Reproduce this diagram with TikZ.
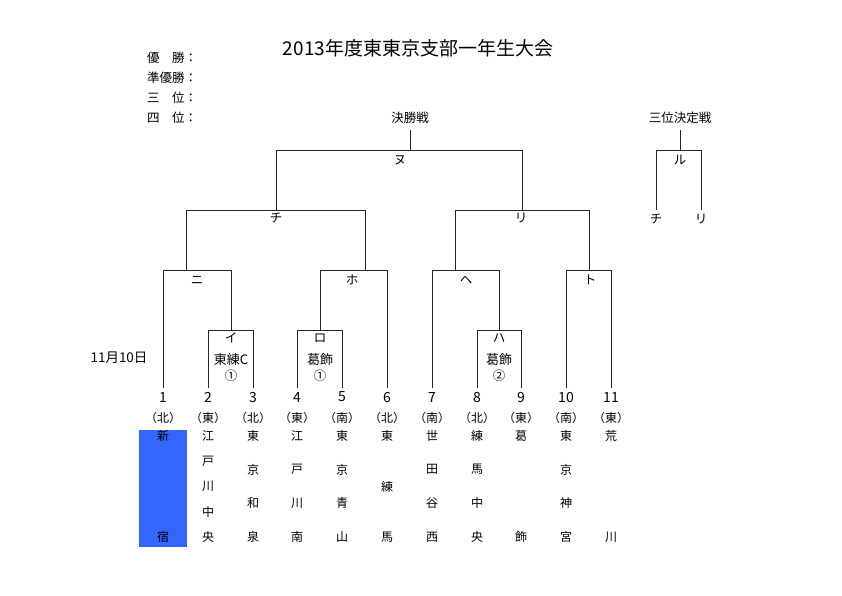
\documentclass[tikz,border=0pt]{standalone}
\usepackage{fontspec}
\setmainfont{Noto Sans CJK JP}
\definecolor{blueband}{RGB}{51,102,255}
\begin{document}
\begin{tikzpicture}[x=1pt,y=-1pt,
  ln/.style={line width=1pt,black!85},
  lbl/.style={inner sep=0pt,font=\fontsize{12.5}{14}\selectfont},
  num/.style={inner sep=0pt,font=\fontsize{14}{16}\selectfont},
  reg/.style={inner sep=0pt,font=\fontsize{12}{14}\selectfont},
  tb/.style={inner sep=0pt,font=\fontsize{12}{14}\selectfont}]
\useasboundingbox[fill=white] (0,0) rectangle (842,595);

% title and header
\node[inner sep=0pt,font=\fontsize{19}{21}\selectfont] (title) at (418,48) {2013年度東東京支部一年生大会};
\node[lbl,anchor=west] (h1) at (147,58) {優　勝：};
\node[lbl,anchor=west] (h2) at (147,78) {準優勝：};
\node[lbl,anchor=west] (h3) at (147,98) {三　位：};
\node[lbl,anchor=west] (h4) at (147,118) {四　位：};
\node[lbl] (final) at (410,118) {決勝戦};
\node[lbl] (third) at (680,118) {三位決定戦};
\node[lbl,font=\fontsize{13.5}{15}\selectfont] (date) at (119,358) {11月10日};

% leaf coordinates
\foreach \i/\x in {1/163,2/208,3/253,4/297,5/342,6/387,7/432,8/477,9/521,10/566,11/611}{
  \coordinate (b\i) at (\x,388);
}

% first round boxes
\coordinate (iL) at (208,330); \coordinate (iR) at (253,330);
\coordinate (roL) at (297,330); \coordinate (roR) at (342,330);
\coordinate (haL) at (477,330); \coordinate (haR) at (521,330);
\draw[ln] (b2) -- (iL) -- (iR) -- (b3);
\draw[ln] (b4) -- (roL) -- (roR) -- (b5);
\draw[ln] (b8) -- (haL) -- (haR) -- (b9);

% second round
\coordinate (niL) at (163,270); \coordinate (niR) at (231,270);
\draw[ln] (b1) -- (niL) -- (niR) -- (231,330);
\coordinate (hoL) at (320,270); \coordinate (hoR) at (387,270);
\draw[ln] (320,330) -- (hoL) -- (hoR) -- (b6);
\coordinate (heL) at (432,270); \coordinate (heR) at (499,270);
\draw[ln] (b7) -- (heL) -- (heR) -- (499,330);
\coordinate (toL) at (566,270); \coordinate (toR) at (611,270);
\draw[ln] (b10) -- (toL) -- (toR) -- (b11);

% semi finals
\coordinate (chiL) at (186,210); \coordinate (chiR) at (365,210);
\draw[ln] (186,270) -- (chiL) -- (chiR) -- (365,270);
\coordinate (riL) at (455,210); \coordinate (riR) at (589,210);
\draw[ln] (455,270) -- (riL) -- (riR) -- (589,270);

% final
\coordinate (nuL) at (276,150); \coordinate (nuR) at (522,150);
\draw[ln] (276,210) -- (nuL) -- (nuR) -- (522,210);
\draw[ln] (410,150) -- (410,130);

% third place
\coordinate (ruL) at (656,150); \coordinate (ruR) at (701,150);
\draw[ln] (656,210) -- (ruL) -- (ruR) -- (701,210);
\draw[ln] (680,150) -- (680,130);

% match labels
\node[lbl] (nu) at (400,160) {ヌ};
\node[lbl] (chi) at (276,218) {チ};
\node[lbl] (ri) at (521,218) {リ};
\node[lbl] (ni) at (197,280) {ニ};
\node[lbl] (ho) at (352,280) {ホ};
\node[lbl] (he) at (466,280) {ヘ};
\node[lbl] (to) at (590,280) {ト};
\node[lbl] (ru) at (680,160) {ル};
\node[lbl] (chi3) at (656,219) {チ};
\node[lbl] (ri3) at (701,219) {リ};
\node[lbl] (a) at (231,338) {イ};
\node[lbl,font=\fontsize{13}{15}\selectfont] (a2) at (231,360) {東練C};
\node[lbl] (a3) at (231,376) {①};
\node[lbl] (r) at (320,338) {ロ};
\node[lbl,font=\fontsize{13}{15}\selectfont] (r2) at (320,360) {葛飾};
\node[lbl] (r3) at (320,376) {①};
\node[lbl] (h) at (499,338) {ハ};
\node[lbl,font=\fontsize{13}{15}\selectfont] (h2b) at (499,360) {葛飾};
\node[lbl] (h3b) at (499,376) {②};

% numbers and regions
\foreach \i/\x/\r in {1/163/北,2/208/東,3/253/北,4/297/東,5/342/南,6/387/北,7/432/南,8/477/北,9/521/東,10/566/南,11/611/東}{
  \node[num] (n\i) at (\x,397) {\i};
  \node[reg] (r\i) at (\x,418) {（\r）};
}

% school names
\fill[blueband] (139,430) rectangle (187,547);
\foreach \x/\n/\names in {163/2/{新,宿},208/5/{江,戸,川,中,央},253/4/{東,京,和,泉},297/4/{江,戸,川,南},342/4/{東,京,青,山},387/3/{東,練,馬},432/4/{世,田,谷,西},477/4/{練,馬,中,央},521/2/{葛,飾},566/4/{東,京,神,宮},611/2/{荒,川}}{
  \foreach \c [count=\k from 0] in \names {
    \node[tb] (s\x-\k) at (\x,{436+\k*101/(\n-1)}) {\c};
  }
}
\end{tikzpicture}
\end{document}
